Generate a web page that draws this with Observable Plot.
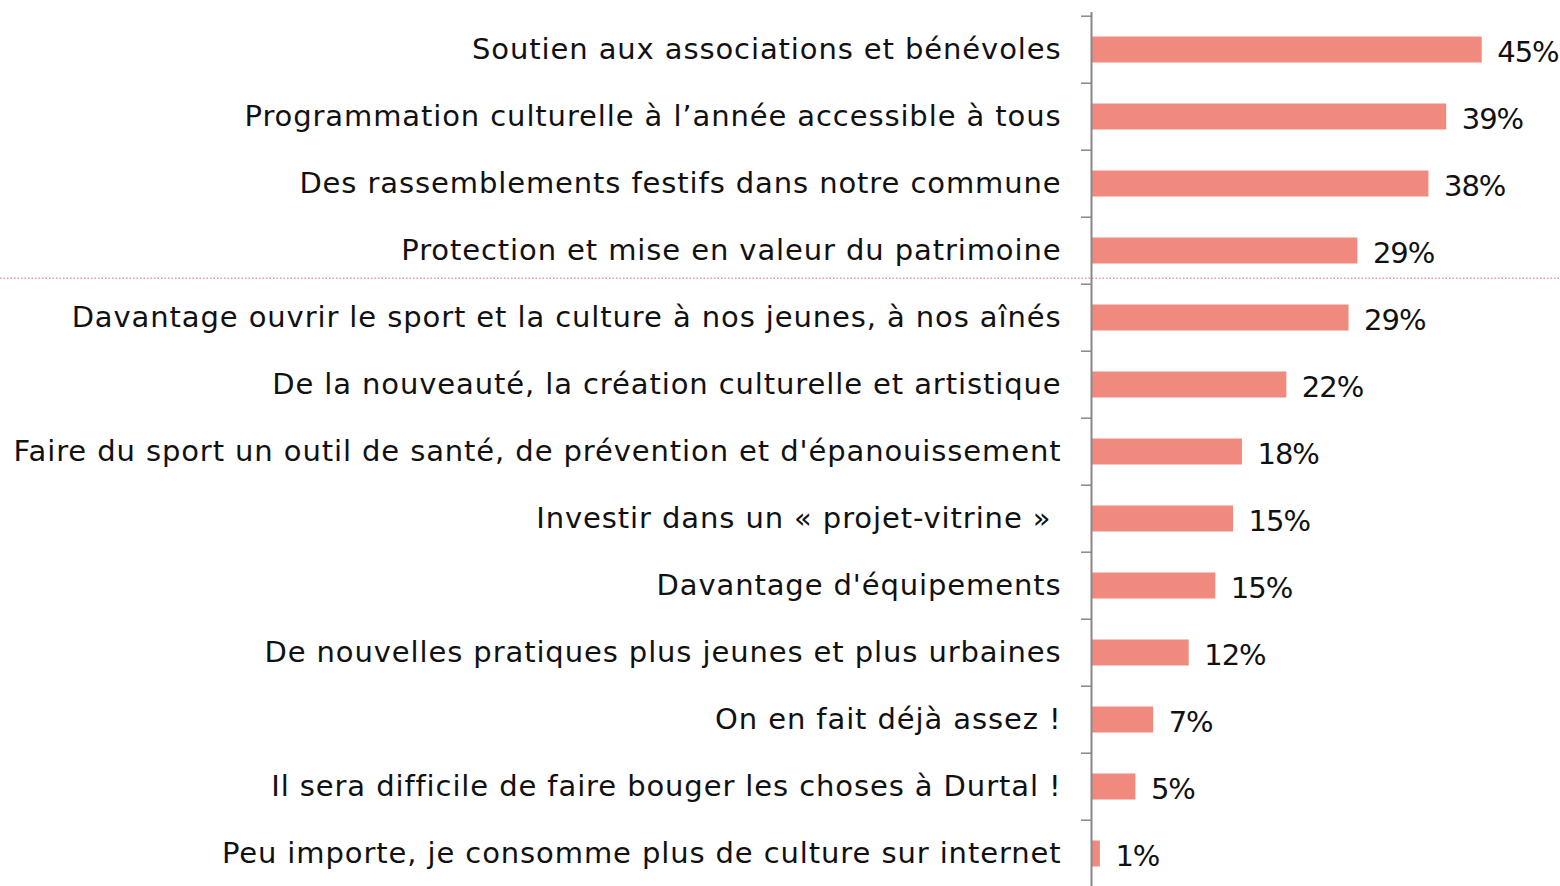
<!DOCTYPE html>
<html><head><meta charset="utf-8">
<script src="https://cdn.jsdelivr.net/npm/d3@7"></script>
<script src="https://cdn.jsdelivr.net/npm/@observablehq/plot@0.6"></script>
<style>
body{margin:0;background:#fff}
#chart svg{overflow:visible}
#chart g[aria-label="y-axis tick label"] text{letter-spacing:0.9px}
#chart g[aria-label="text"] text{letter-spacing:-1px}
</style>
</head><body><div id="chart"></div>
<script>
const categories = [
  "Soutien aux associations et bénévoles",
  "Programmation culturelle à l’année accessible à tous",
  "Des rassemblements festifs dans notre commune",
  "Protection et mise en valeur du patrimoine",
  "Davantage ouvrir le sport et la culture à nos jeunes, à nos aînés",
  "De la nouveauté, la création culturelle et artistique",
  "Faire du sport un outil de santé, de prévention et d'épanouissement",
  "Investir dans un « projet-vitrine »\u00A0",
  "Davantage d'équipements",
  "De nouvelles pratiques plus jeunes et plus urbaines",
  "On en fait déjà assez !",
  "Il sera difficile de faire bouger les choses à Durtal !",
  "Peu importe, je consomme plus de culture sur internet"
];
const values = [44, 40, 38, 30, 29, 22, 17, 16, 14, 11, 7, 5, 1];
const valueLabels = ["45%", "39%", "38%", "29%", "29%", "22%", "18%", "15%", "15%", "12%", "7%", "5%", "1%"];
const separatorBefore = categories[4];

const data = categories.map((c, i) => ({category: c, value: values[i], label: valueLabels[i]}));

const FONT = "DejaVu Sans";
const plot = Plot.plot({
  width: 1560,
  height: 886,
  marginTop: 12,
  marginBottom: -5,
  marginLeft: 1091,
  marginRight: 25,
  style: {fontFamily: FONT, fontSize: "29px", color: "#111", background: "#fff", overflow: "visible"},
  x: {domain: [0, 50], axis: null},
  y: {domain: categories, padding: 0, axis: null},
  marks: [
    Plot.barX(data, {x: "value", y: "category", fill: "#F08A7F", insetTop: 20.5, insetBottom: 20.5}),
    Plot.axisY({tickSize: 0, tickPadding: 30, fontSize: 29, fill: "#111", label: null}),
    Plot.ruleY(categories, {y: d => d, x1: 0, x2: 0, insetLeft: -10, dy: -33.8, stroke: "#888", strokeWidth: 1.5}),
    Plot.ruleX([0], {stroke: "#888", strokeWidth: 2}),
    Plot.ruleY([separatorBefore], {y: d => d, dy: -39.8, insetLeft: -1091, insetRight: -25, stroke: "#E06666", strokeWidth: 1, strokeDasharray: "1.5,2"}),
    Plot.text(data, {x: "value", y: "category", text: "label", dx: 15, dy: 3, textAnchor: "start", fontSize: 29, fill: "#111"})
  ]
});
document.getElementById("chart").appendChild(plot);
</script>
</body></html>
